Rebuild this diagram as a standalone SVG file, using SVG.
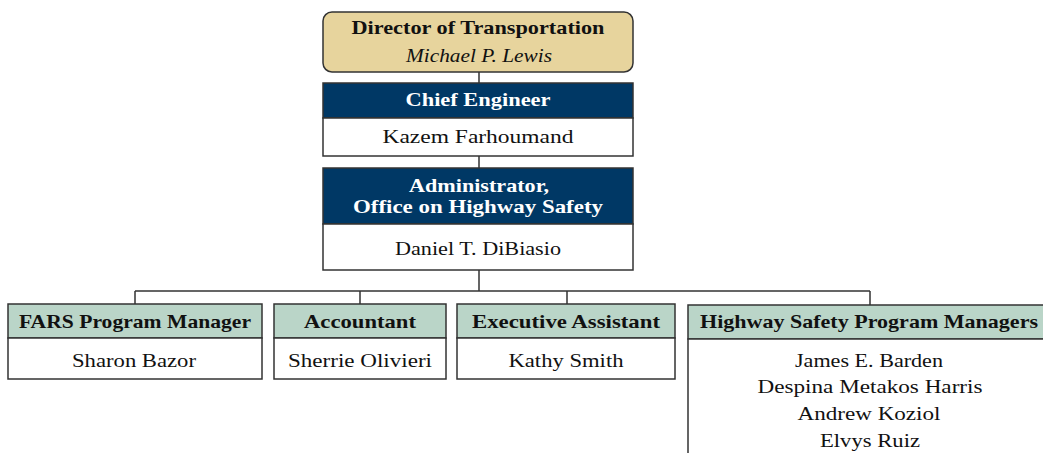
<svg xmlns="http://www.w3.org/2000/svg" width="1043" height="453" viewBox="0 0 1043 453">
<style>
.box{stroke:#333;stroke-width:1.5}
.tan{fill:#E7D49D}
.navy{fill:#003865}
.green{fill:#BAD5C8}
.white{fill:#fff}
.t{font-family:"Liberation Serif","Times New Roman",serif;font-size:19.5px;fill:#111;text-anchor:middle}
.b{font-weight:bold}
.w{fill:#fff}
.i{font-style:italic}
.conn{stroke:#333;stroke-width:1.5;fill:none}
</style>
<rect width="1043" height="453" fill="#fff"/>
<g id="connectors">
<path class="conn" d="M479,72V83M479,156V168M479,270V291M135,291H870M135,291V304M360,291V304M567,291V304M870,291V305"/>
</g>
<g id="director">
<rect class="box tan" x="323" y="12" width="310" height="60" rx="9"/>
<text class="t b" x="478" y="34" textLength="253" lengthAdjust="spacingAndGlyphs">Director of Transportation</text>
<text class="t i" x="479" y="62" textLength="146" lengthAdjust="spacingAndGlyphs">Michael P. Lewis</text>
</g>
<g id="chief">
<rect class="box navy" x="323" y="83" width="310" height="35"/>
<rect class="box white" x="323" y="118" width="310" height="38"/>
<text class="t b w" x="478" y="106" textLength="145" lengthAdjust="spacingAndGlyphs">Chief Engineer</text>
<text class="t" x="478" y="143" textLength="191" lengthAdjust="spacingAndGlyphs">Kazem Farhoumand</text>
</g>
<g id="administrator">
<rect class="box navy" x="323" y="168" width="310" height="56"/>
<rect class="box white" x="323" y="224" width="310" height="46"/>
<text class="t b w" x="479" y="192" textLength="140" lengthAdjust="spacingAndGlyphs">Administrator,</text>
<text class="t b w" x="478" y="213" textLength="250" lengthAdjust="spacingAndGlyphs">Office on Highway Safety</text>
<text class="t" x="478" y="255" textLength="166" lengthAdjust="spacingAndGlyphs">Daniel T. DiBiasio</text>
</g>
<g id="fars">
<rect class="box green" x="8" y="304" width="254" height="34"/>
<rect class="box white" x="8" y="338" width="254" height="41"/>
<text class="t b" x="135" y="328" textLength="232" lengthAdjust="spacingAndGlyphs">FARS Program Manager</text>
<text class="t" x="134" y="367" textLength="124" lengthAdjust="spacingAndGlyphs">Sharon Bazor</text>
</g>
<g id="accountant">
<rect class="box green" x="274" y="304" width="172" height="34"/>
<rect class="box white" x="274" y="338" width="172" height="41"/>
<text class="t b" x="360" y="328" textLength="112" lengthAdjust="spacingAndGlyphs">Accountant</text>
<text class="t" x="360" y="367" textLength="144" lengthAdjust="spacingAndGlyphs">Sherrie Olivieri</text>
</g>
<g id="executive">
<rect class="box green" x="457" y="304" width="218" height="34"/>
<rect class="box white" x="457" y="338" width="218" height="41"/>
<text class="t b" x="566" y="328" textLength="188" lengthAdjust="spacingAndGlyphs">Executive Assistant</text>
<text class="t" x="566" y="367" textLength="115" lengthAdjust="spacingAndGlyphs">Kathy Smith</text>
</g>
<g id="highway">
<rect class="box green" x="688" y="305" width="360" height="34"/>
<rect class="box white" x="688" y="339" width="360" height="120"/>
<text class="t b" x="869" y="328" textLength="338" lengthAdjust="spacingAndGlyphs">Highway Safety Program Managers</text>
<text class="t" x="869" y="367" textLength="148" lengthAdjust="spacingAndGlyphs">James E. Barden</text>
<text class="t" x="870" y="393" textLength="225" lengthAdjust="spacingAndGlyphs">Despina Metakos Harris</text>
<text class="t" x="869" y="420" textLength="143" lengthAdjust="spacingAndGlyphs">Andrew Koziol</text>
<text class="t" x="870" y="447" textLength="100" lengthAdjust="spacingAndGlyphs">Elvys Ruiz</text>
</g>
</svg>
